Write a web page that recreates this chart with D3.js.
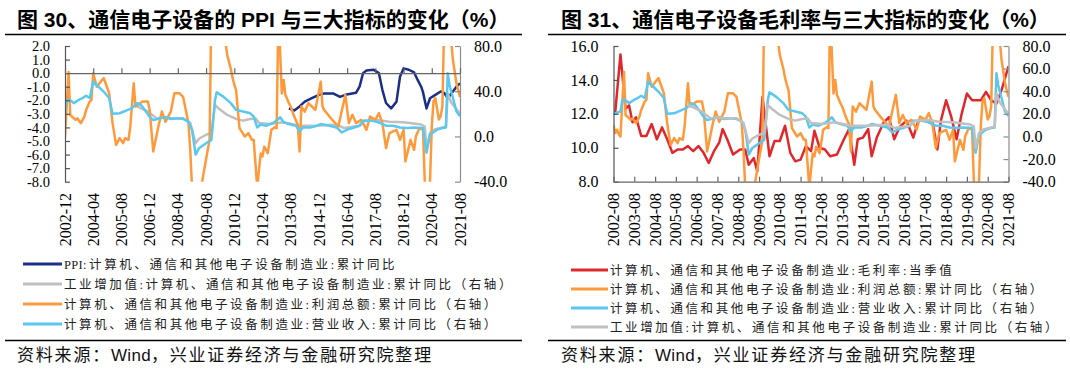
<!DOCTYPE html>
<html>
<head>
<meta charset="utf-8">
<script src="https://cdn.jsdelivr.net/npm/d3@7"></script>
<style>
  body { margin: 0; background: #fff; }
  svg { display: block; }
</style>
</head>
<body>
<svg id="chart" width="1070" height="372"></svg>
<script>
// ---- data ----
// left-axis series, panel 30
const ppi = [
    ["2013-07", -2.6], ["2013-10", -2.75], ["2014-01", -2.45], ["2014-04", -2.1], ["2014-08", -1.85],
    ["2014-12", -1.6], ["2015-03", -1.5], ["2015-08", -1.5], ["2015-12", -1.75], ["2016-03", -1.6],
    ["2016-09", -1.45], ["2016-11", -1.0], ["2017-01", 0.0], ["2017-03", 0.2], ["2017-07", 0.25],
    ["2017-10", 0.0], ["2017-12", -1.25], ["2018-02", -2.2], ["2018-05", -2.6], ["2018-08", -2.1],
    ["2018-10", -0.25], ["2018-12", 0.35], ["2019-03", 0.25], ["2019-06", 0.05], ["2019-08", -0.5],
    ["2019-10", -1.0], ["2019-11", -1.4], ["2020-01", -2.6], ["2020-03", -1.85], ["2020-06", -1.6],
    ["2020-09", -1.35], ["2020-11", -1.45], ["2021-01", -1.85], ["2021-04", -1.35], ["2021-06", -1.0],
    ["2021-08", -0.75]
];

// left-axis series, panel 31 (gross margin, %)
const margin = [
    ["2002-09", 12.1], ["2002-12", 15.5], ["2003-03", 12.3], ["2003-05", 12.5], ["2003-07", 11.5],
    ["2003-09", 11.8], ["2003-12", 10.7], ["2004-03", 10.7], ["2004-06", 11.4], ["2004-09", 10.5],
    ["2004-12", 11.2], ["2005-03", 10.5], ["2005-06", 9.7], ["2005-09", 9.9], ["2005-12", 9.9],
    ["2006-03", 10.1], ["2006-06", 9.8], ["2006-09", 10.1], ["2006-12", 9.7], ["2007-03", 9.1],
    ["2007-06", 9.8], ["2007-09", 10.3], ["2007-11", 11.1], ["2008-02", 10.4], ["2008-05", 9.6],
    ["2008-09", 9.9], ["2008-12", 9.9], ["2009-02", 9.0], ["2009-05", 9.4], ["2009-07", 8.6],
    ["2009-10", 13.0], ["2010-02", 9.5], ["2010-05", 10.4], ["2010-08", 10.4], ["2010-11", 11.3],
    ["2011-02", 9.7], ["2011-05", 9.2], ["2011-08", 9.3], ["2011-11", 10.1], ["2012-02", 9.8],
    ["2012-04", 11.0], ["2012-07", 10.0], ["2012-10", 9.9], ["2013-01", 9.5], ["2013-05", 9.6],
    ["2013-09", 10.5], ["2013-12", 11.1], ["2014-03", 9.0], ["2014-05", 10.5], ["2014-08", 10.6],
    ["2014-11", 11.1], ["2015-01", 9.5], ["2015-04", 10.6], ["2015-08", 11.5], ["2015-11", 11.8],
    ["2016-02", 10.5], ["2016-05", 11.2], ["2016-09", 11.6], ["2017-01", 10.6], ["2017-04", 11.6],
    ["2017-08", 11.6], ["2017-12", 11.6], ["2018-03", 9.9], ["2018-05", 11.6], ["2018-08", 12.8],
    ["2018-11", 11.8], ["2019-02", 10.5], ["2019-05", 12.0], ["2019-08", 13.2], ["2019-11", 12.8],
    ["2020-04", 12.8], ["2020-07", 13.3], ["2020-10", 12.8], ["2021-01", 12.6], ["2021-04", 13.4],
    ["2021-08", 14.8]
];

// right-axis series, shared by both panels (cumulative yoy, %)
const profit = [
    ["2002-08", 10], ["2002-09", 3], ["2002-10", 6], ["2002-11", 2], ["2002-12", 0],
    ["2003-02", 57], ["2003-03", 19], ["2003-06", 14.7], ["2003-07", 16], ["2003-09", 11.8],
    ["2003-11", 17.6], ["2003-12", 23.5], ["2004-02", 30.9], ["2004-03", 32.4], ["2004-04", 55.9],
    ["2004-06", 44], ["2004-09", 50], ["2004-10", 51.5], ["2005-01", 38.2], ["2005-03", 11.8],
    ["2005-05", -7.4], ["2005-07", -1.5], ["2005-09", -5.9], ["2005-10", -1.5], ["2005-12", -2.9],
    ["2006-01", 8.8], ["2006-03", 47], ["2006-04", 26.5], ["2006-08", 30.9], ["2006-11", 30.9],
    ["2006-12", 23.5], ["2007-02", -13.2], ["2007-05", 8.8], ["2007-07", 22], ["2007-09", 13],
    ["2007-12", 22], ["2008-02", 38.2], ["2008-05", 38.2], ["2008-07", 35], ["2008-10", 11.8],
    ["2008-11", -12], ["2008-12", -45], ["2009-02", -70], ["2009-04", -60], ["2009-06", -38],
    ["2009-08", -20], ["2009-10", -3], ["2009-11", 120], ["2010-02", 300], ["2010-05", 110],
    ["2010-06", 95], ["2010-07", 84], ["2010-08", 72], ["2010-09", 66], ["2010-10", 60],
    ["2010-11", 52], ["2010-12", 46], ["2011-01", 41], ["2011-03", 7.4], ["2011-06", 0],
    ["2011-08", 2.9], ["2011-10", -3], ["2011-11", -3], ["2012-01", -45], ["2012-03", -15],
    ["2012-04", -17.6], ["2012-05", -9], ["2012-07", -14.7], ["2012-09", 5.9], ["2012-11", 8.2],
    ["2012-12", 7.4], ["2013-01", 110], ["2013-03", 38], ["2013-04", 50], ["2013-05", 36.8],
    ["2013-07", 29.4], ["2013-08", 26.5], ["2013-10", 17.6], ["2013-12", 10.3], ["2014-01", -13.2],
    ["2014-02", 26.5], ["2014-04", 22], ["2014-06", 29.4], ["2014-08", 26.5], ["2014-10", 23.5],
    ["2015-01", 48.5], ["2015-02", 26.5], ["2015-03", 23.5], ["2015-06", 17.6], ["2015-11", 8.8],
    ["2016-03", 36.8], ["2016-05", 11.8], ["2016-07", 19.1], ["2016-09", 11.8], ["2016-12", 14.7],
    ["2017-03", 5.9], ["2017-05", 17.6], ["2017-08", 14.7], ["2017-10", 20.6], ["2017-12", 11.8],
    ["2018-02", -10.3], ["2018-04", 2.9], ["2018-08", 5.9], ["2018-10", -3], ["2018-12", 5.9],
    ["2019-01", -22], ["2019-04", -3], ["2019-06", -11.8], ["2019-07", 0], ["2019-09", 7.4],
    ["2019-11", 6], ["2020-01", -85], ["2020-03", -40], ["2020-04", 9], ["2020-05", 31],
    ["2020-06", 34], ["2020-08", 15], ["2020-09", 18], ["2020-10", 26.5], ["2020-11", 100],
    ["2021-01", 350], ["2021-02", 150], ["2021-03", 85], ["2021-04", 67.6], ["2021-06", 47],
    ["2021-07", 41], ["2021-08", 35]
];

const revenue = [
    ["2002-08", 20], ["2002-10", 21], ["2002-12", 22], ["2003-01", 32], ["2003-03", 32],
    ["2003-05", 29.5], ["2003-08", 32.5], ["2003-10", 34], ["2003-12", 36], ["2004-02", 34],
    ["2004-04", 48.5], ["2004-06", 45.5], ["2004-10", 39.5], ["2005-01", 34], ["2005-03", 20],
    ["2005-07", 20.5], ["2005-11", 23], ["2006-02", 25], ["2006-05", 29.5], ["2006-07", 28],
    ["2006-09", 24], ["2006-12", 17.5], ["2007-02", 14.5], ["2007-06", 16], ["2007-09", 17],
    ["2007-12", 15.5], ["2008-04", 16], ["2008-07", 15.5], ["2008-10", 13], ["2008-12", 6],
    ["2009-02", -16], ["2009-04", -10.5], ["2009-08", -6], ["2009-11", -3], ["2010-01", 32],
    ["2010-02", 39], ["2010-06", 35], ["2010-10", 29.5], ["2011-01", 23.5], ["2011-05", 22],
    ["2011-09", 20.5], ["2011-11", 17.5], ["2012-01", 8], ["2012-03", 10.5], ["2012-06", 9.5],
    ["2012-10", 12], ["2013-01", 15.5], ["2013-02", 17], ["2013-04", 12.5], ["2013-08", 10.5],
    ["2013-11", 9.5], ["2014-01", 4.5], ["2014-03", 8], ["2014-07", 8], ["2014-11", 9.5],
    ["2015-01", 11], ["2015-06", 9.5], ["2015-10", 8], ["2016-01", 3.5], ["2016-04", 6],
    ["2016-07", 7.5], ["2016-11", 9.5], ["2017-01", 14], ["2017-05", 14], ["2017-09", 13],
    ["2017-12", 11], ["2018-02", 9.5], ["2018-06", 9.5], ["2018-10", 8], ["2019-02", 7.5],
    ["2019-06", 8], ["2019-11", 7.5], ["2020-01", -14.5], ["2020-03", 1.5], ["2020-07", 6],
    ["2020-10", 7.5], ["2020-12", 8], ["2021-01", 56], ["2021-02", 45.5], ["2021-04", 34],
    ["2021-06", 22], ["2021-08", 18]
];

const valueAdded = [
    ["2006-03", 28], ["2006-07", 25], ["2006-11", 22], ["2007-04", 16], ["2007-08", 17],
    ["2008-01", 16], ["2008-07", 16], ["2008-11", 12], ["2009-02", -6], ["2009-04", -2],
    ["2009-08", 1.5], ["2009-11", 3], ["2010-01", 28], ["2010-03", 25], ["2010-08", 19],
    ["2011-01", 15.5], ["2011-05", 14], ["2011-09", 15.5], ["2011-12", 16], ["2012-02", 12],
    ["2012-08", 11], ["2013-04", 12.5], ["2014-01", 9.5], ["2014-11", 9.5], ["2015-10", 10.5],
    ["2016-02", 7.5], ["2016-11", 9.5], ["2017-02", 14], ["2017-09", 14.5], ["2018-04", 13],
    ["2018-12", 12.5], ["2019-10", 10.5], ["2019-12", 9], ["2020-01", -10], ["2020-03", 3],
    ["2020-06", 6.5], ["2020-10", 8], ["2020-12", 8.5], ["2021-01", 38], ["2021-03", 30],
    ["2021-05", 26], ["2021-08", 20]
];

// tick labels
const ticks30 = ["2002-12", "2004-04", "2005-08", "2006-12", "2008-04", "2009-08", "2010-12", "2012-04",
    "2013-08", "2014-12", "2016-04", "2017-08", "2018-12", "2020-04", "2021-08"];
const ticks31 = ["2002-08", "2003-08", "2004-08", "2005-08", "2006-08", "2007-08", "2008-08", "2009-08",
    "2010-08", "2011-08", "2012-08", "2013-08", "2014-08", "2015-08", "2016-08", "2017-08", "2018-08",
    "2019-08", "2020-08", "2021-08"];
const leftTicks30 = [2, 1, 0, -1, -2, -3, -4, -5, -6, -7, -8];
const rightTicks30 = [80, 40, 0, -40];
const leftTicks31 = [16, 14, 12, 10, 8];
const rightTicks31 = [80, 60, 40, 20, 0, -20, -40];

const names = {
    ppi: "PPI:计算机、通信和其他电子设备制造业:累计同比",
    va: "工业增加值:计算机、通信和其他电子设备制造业:累计同比（右轴）",
    profit: "计算机、通信和其他电子设备制造业:利润总额:累计同比（右轴）",
    revenue: "计算机、通信和其他电子设备制造业:营业收入:累计同比（右轴）",
    margin: "计算机、通信和其他电子设备制造业:毛利率:当季值"
};
const sourceText = '资料来源：Wind，兴业证券经济与金融研究院整理';

const colors = { ppi: '#1b2f86', va: '#c0c0c0', profit: '#ff9a3c', revenue: '#5bc8ef', margin: '#e0282c' };

// ---- drawing ----
const parse = d3.timeParse('%Y-%m');
const svg = d3.select('#chart');
const serif = '"Liberation Serif", "Times New Roman", "Noto Sans CJK SC", serif';
const sans = '"Liberation Sans", Arial, "Noto Sans CJK SC", sans-serif';

// latin letters stay tight, the CJK runs get the wide spacing of the original
function spacedText(sel, str, spacing) {
    const runs = str.match(/[A-Za-z]+|[^A-Za-z]+/g);
    sel.selectAll('tspan')
        .data(runs)
        .join('tspan')
        .attr('letter-spacing', d => /[A-Za-z]/.test(d) ? 0.3 : spacing)
        .text(d => d);
}

function styleAxis(g, color, size) {
    g.select('.domain').attr('stroke', color).attr('stroke-width', 1.2);
    g.selectAll('.tick line').attr('stroke', color).attr('stroke-width', 1.2);
    g.selectAll('text').attr('font-family', serif).attr('font-size', size || 16).attr('fill', '#000');
}

function drawPanel(cfg) {
    const { box, x, yL, yR, id } = cfg;
    const g = svg.append('g');

    // title + rules
    g.append('text')
        .attr('x', cfg.titleX).attr('y', 27)
        .attr('font-family', sans).attr('font-weight', 'bold').attr('font-size', 21)
        .attr('fill', '#000')
        .text(cfg.title);
    g.append('line').attr('x1', cfg.ruleX[0]).attr('x2', cfg.ruleX[1])
        .attr('y1', 34.5).attr('y2', 34.5).attr('stroke', '#000').attr('stroke-width', 1.3);
    g.append('line').attr('x1', cfg.ruleX[0]).attr('x2', cfg.ruleX[1])
        .attr('y1', 340.5).attr('y2', 340.5).attr('stroke', '#000').attr('stroke-width', 1.3);
    g.append('text')
        .attr('x', cfg.sourceX).attr('y', 361)
        .attr('font-family', sans).attr('font-size', 17)
        .attr('fill', '#111')
        .call(spacedText, sourceText, 1.8);

    // clipped series
    g.append('clipPath').attr('id', id)
        .append('rect')
        .attr('x', box.left).attr('y', box.top)
        .attr('width', box.right - box.left).attr('height', box.bottom - box.top);
    const plot = g.append('g').attr('clip-path', `url(#${id})`);
    cfg.series.forEach(s => {
        const y = s.axis === 'left' ? yL : yR;
        const line = d3.line().x(d => x(parse(d[0]))).y(d => y(d[1]));
        plot.append('path')
            .datum(s.data)
            .attr('d', line)
            .attr('fill', 'none')
            .attr('stroke', s.color)
            .attr('stroke-width', 2.5)
            .attr('stroke-linejoin', 'round');
    });

    // axes
    const axL = g.append('g').attr('transform', `translate(${box.left},0)`)
        .call(d3.axisLeft(yL).tickValues(cfg.leftTicks).tickSizeInner(-5).tickSizeOuter(0)
            .tickPadding(15).tickFormat(d => d.toFixed(1)));
    styleAxis(axL, '#555', cfg.leftFont);
    const axR = g.append('g').attr('transform', `translate(${box.right},0)`)
        .call(d3.axisRight(yR).tickValues(cfg.rightTicks).tickSizeInner(-5).tickSizeOuter(0)
            .tickPadding(14).tickFormat(d => d.toFixed(1)));
    styleAxis(axR, '#8c8c8c');
    const axX = g.append('g').attr('transform', `translate(0,${cfg.xAxisY})`)
        .call(d3.axisBottom(x).tickValues(cfg.xTicks.map(parse)).tickSize(-5).tickSizeOuter(0)
            .tickFormat(''));
    styleAxis(axX, '#666');

    g.append('g').selectAll('text')
        .data(cfg.xTicks)
        .join('text')
        .attr('transform', d => `translate(${x(parse(d))},193) rotate(-90)`)
        .attr('text-anchor', 'end')
        .attr('dy', '0.35em')
        .attr('font-family', serif).attr('font-size', 16).attr('fill', '#000')
        .text(d => d);

    // legend
    const leg = g.append('g').selectAll('g')
        .data(cfg.legend)
        .join('g')
        .attr('transform', (d, i) => `translate(0,${cfg.legendY[i]})`);
    leg.append('line')
        .attr('x1', cfg.legendX[0]).attr('x2', cfg.legendX[1])
        .attr('stroke', d => colors[d]).attr('stroke-width', 3);
    leg.append('text')
        .attr('x', cfg.legendX[1] + 2).attr('dy', '0.36em')
        .attr('font-family', serif).attr('font-size', 12.5)
        .attr('fill', '#222')
        .each(function(d) { d3.select(this).call(spacedText, names[d], 2.6); });
}

const box30 = { left: 65, right: 460, top: 46, bottom: 181.7 };
const y30L = d3.scaleLinear().domain([-8, 2]).range([box30.bottom, box30.top]);
drawPanel({
    id: 'clip30',
    box: box30,
    x: d3.scaleTime().domain([parse('2002-12'), parse('2021-08')]).range([box30.left, box30.right]),
    yL: y30L,
    yR: d3.scaleLinear().domain([-40, 80]).range([box30.bottom, box30.top]),
    xAxisY: y30L(0),
    xTicks: ticks30,
    leftTicks: leftTicks30,
    leftFont: 14.5,
    rightTicks: rightTicks30,
    title: '图 30、通信电子设备的 PPI 与三大指标的变化（%）',
    titleX: 17,
    ruleX: [5, 522],
    sourceX: 17,
    series: [
        { data: ppi, axis: 'left', color: colors.ppi },
        { data: valueAdded, axis: 'right', color: colors.va },
        { data: profit, axis: 'right', color: colors.profit },
        { data: revenue, axis: 'right', color: colors.revenue }
    ],
    legend: ['ppi', 'va', 'profit', 'revenue'],
    legendY: [264, 284, 304, 324],
    legendX: [23, 62]
});

const box31 = { left: 613.5, right: 1008.5, top: 46, bottom: 181.7 };
drawPanel({
    id: 'clip31',
    box: box31,
    x: d3.scaleTime().domain([parse('2002-08'), parse('2021-08')]).range([box31.left, box31.right]),
    yL: d3.scaleLinear().domain([8, 16]).range([box31.bottom, box31.top]),
    yR: d3.scaleLinear().domain([-40, 80]).range([box31.bottom, box31.top]),
    xAxisY: box31.bottom,
    xTicks: ticks31,
    leftTicks: leftTicks31,
    rightTicks: rightTicks31,
    title: '图 31、通信电子设备毛利率与三大指标的变化（%）',
    titleX: 561,
    ruleX: [548, 1066],
    sourceX: 561,
    series: [
        { data: margin, axis: 'left', color: colors.margin },
        { data: profit, axis: 'right', color: colors.profit },
        { data: revenue, axis: 'right', color: colors.revenue },
        { data: valueAdded, axis: 'right', color: colors.va }
    ],
    legend: ['margin', 'profit', 'revenue', 'va'],
    legendY: [270, 289, 308, 327],
    legendX: [571, 608]
});
</script>
</body>
</html>
